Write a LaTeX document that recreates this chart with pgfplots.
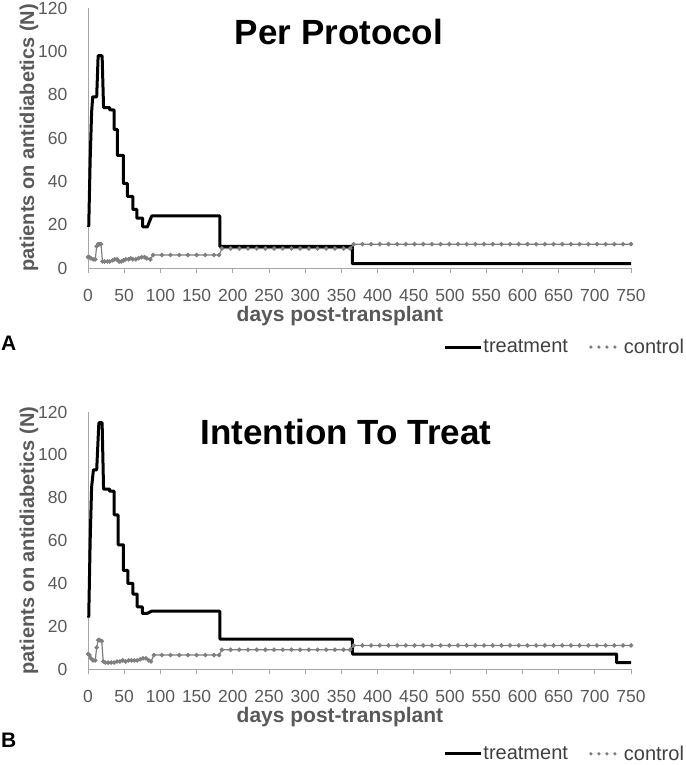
\documentclass[border=0pt]{standalone}
\usepackage{fontspec}
\setmainfont{Liberation Sans}
\usepackage{pgfplots}
\pgfplotsset{compat=1.18}
\definecolor{axgray}{HTML}{A6A6A6}
\definecolor{lblgray}{HTML}{595959}
\definecolor{leggray}{HTML}{404040}
\definecolor{ctrl}{HTML}{7F7F7F}

\pgfplotsset{
  panel/.style={
    scale only axis, width=543pt,
    xmin=0, xmax=750, ymin=0, ymax=120,
    axis x line=bottom, axis y line=left,
    axis line style={axgray, line width=0.9pt, -},
    xtick={0,50,...,750}, ytick={0,20,...,120},
    tick align=outside, major tick length=5pt,
    xtick style={axgray, line width=0.9pt},
    ytick style={draw=none},
    /pgf/number format/assume math mode=true,
    ticklabel style={font=\fontsize{17.5}{19}\selectfont, text=lblgray},
    xticklabel style={anchor=center, inner sep=0pt, yshift=-22.5pt},
    yticklabel style={anchor=east, inner sep=0pt, xshift=-15.5pt},
    xlabel style={font=\bfseries\fontsize{21}{24}\selectfont, text=lblgray,
      at={(axis description cs:0.464,-0.1865)}, anchor=center},
    ylabel style={font=\bfseries\fontsize{20}{24}\selectfont, text=lblgray,
      at={(axis description cs:-0.1087,0.5)}, anchor=center},
    xlabel={days post-transplant},
    ylabel={patients on antidiabetics (N)},
    clip=false,
    legend columns=2,
    legend style={draw=none, fill=none, inner sep=0pt, outer sep=0pt,
      font=\fontsize{20}{22}\selectfont, text=leggray,
      nodes={inner sep=1pt},
      /tikz/every even column/.append style={column sep=20pt}},
  },
  treat/.style={black, line width=3pt, line join=round,
    legend image code/.code={\path[draw=none, fill=none] (0pt,-5pt) rectangle (37pt,5pt);
      \draw[black, line width=3pt] (0pt,0pt) -- (36pt,0pt);}},
  contr/.style={ctrl, line width=1.2pt, mark=*, mark size=1.6pt,
    mark options={fill=ctrl, draw=ctrl},
    legend image code/.code={\path[draw=none, fill=none] (0pt,-5pt) rectangle (34pt,5pt);
      \foreach \x in {2pt,10pt,18pt,26pt}{\fill[ctrl, draw=none] (\x,0pt) circle (1.8pt);}}},
}

\begin{document}
\begin{tikzpicture}
\path[use as bounding box] (0pt,0pt) rectangle (685pt,765pt);

% ---------------- Panel A: Per Protocol ----------------
\begin{axis}[panel, height=260pt, at={(88pt,497pt)}, anchor=south west,
  legend style={at={(axis description cs:1.0994,-0.304)}, anchor=east}]
\addplot[treat] coordinates {
(1,19) (3,50) (5,72) (6.5,79) (12,79) (14,98) (19.5,98) (21.5,74) (30,74) (30,73)
(36,73) (36,64) (40.5,64) (40.5,52) (49,52) (49,39) (54.5,39) (54.5,33) (62,33)
(62,27) (67.5,27) (67.5,23) (75.5,23) (75.5,19) (82,19) (88,24) (182,24) (182,10)
(365,10) (365,2) (750,2)};
\addlegendentry{treatment}
\addplot[contr] coordinates {
(0,5) (2,5) (4,4.5) (7,4) (10,4) (12,10) (14,11) (16,11) (18,11) (20,3) (23,3)
(27,3) (30,3) (34,3.5) (37,4) (40,4) (43,3) (46,3) (49,3.5) (52,4) (56,4) (59,4.5)
(62,4) (66,4) (70,4.5) (74,5) (78,5) (81,4.5) (86,4) (90,6) (102,6) (114,6) (126,6)
(138,6) (150,6) (162,6) (174,6) (181,6) (185,9) (197,9) (209,9) (221,9) (233,9)
(245,9) (257,9) (269,9) (281,9) (293,9) (305,9) (317,9) (329,9) (341,9) (353,9)
(362,9) (367,11) (379,11) (391,11) (403,11) (415,11) (427,11) (439,11) (451,11)
(463,11) (475,11) (487,11) (499,11) (511,11) (523,11) (535,11) (547,11) (559,11)
(571,11) (583,11) (595,11) (607,11) (619,11) (631,11) (643,11) (655,11) (667,11)
(679,11) (691,11) (703,11) (715,11) (727,11) (739,11) (750,11)};
\addlegendentry{control}
\end{axis}

% ---------------- Panel B: Intention To Treat ----------------
\begin{axis}[panel, height=257pt, at={(88pt,96pt)}, anchor=south west,
  legend style={at={(axis description cs:1.0994,-0.33)}, anchor=east}]
\addplot[treat] coordinates {
(1,24) (3,60) (5,85) (7.5,93) (12,93) (15,115) (19.5,115) (21.5,84) (30,84) (30,83)
(36,83) (36,72) (41.5,72) (41.5,58) (49,58) (49,46) (55,46) (55,40) (62,40) (62,35)
(68,35) (68,29) (75,29) (75,26) (82,26) (88,27) (182,27) (182,14) (365,14) (365,7)
(730,7) (730,3) (750,3)};
\addlegendentry{treatment}
\addplot[contr] coordinates {
(0,7) (2,6.5) (4,5) (7,4) (10,4) (12,10) (14,13.5) (16,13.5) (19,13) (21,3.5)
(24,3) (28,3) (32,3) (36,3) (40,3.5) (44,3.5) (48,4) (52,3.5) (56,4) (60,4) (64,4)
(68,4) (72,4.5) (76,5) (80,5) (84,4) (87,3.5) (91,6.5) (102,6.5) (114,6.5)
(126,6.5) (138,6.5) (150,6.5) (162,6.5) (174,6.5) (181,6.5) (185,9) (197,9)
(209,9) (221,9) (233,9) (245,9) (257,9) (269,9) (281,9) (293,9) (305,9) (317,9)
(329,9) (341,9) (353,9) (362,9) (367,11) (379,11) (391,11) (403,11) (415,11)
(427,11) (439,11) (451,11) (463,11) (475,11) (487,11) (499,11) (511,11) (523,11)
(535,11) (547,11) (559,11) (571,11) (583,11) (595,11) (607,11) (619,11) (631,11)
(643,11) (655,11) (667,11) (679,11) (691,11) (703,11) (715,11) (727,11) (739,11)
(750,11)};
\addlegendentry{control}
\end{axis}

% titles and panel letters
\node[anchor=base, font=\bfseries\fontsize{35}{40}\selectfont] at (339pt,720pt) {Per Protocol};
\node[anchor=base, font=\bfseries\fontsize{35}{40}\selectfont] at (346pt,320pt) {Intention To Treat};
\node[anchor=west, inner sep=0pt, font=\bfseries\fontsize{21}{24}\selectfont] at (1pt,422pt) {A};
\node[anchor=west, inner sep=0pt, font=\bfseries\fontsize{21}{24}\selectfont] at (1pt,25pt) {B};
\end{tikzpicture}
\end{document}
